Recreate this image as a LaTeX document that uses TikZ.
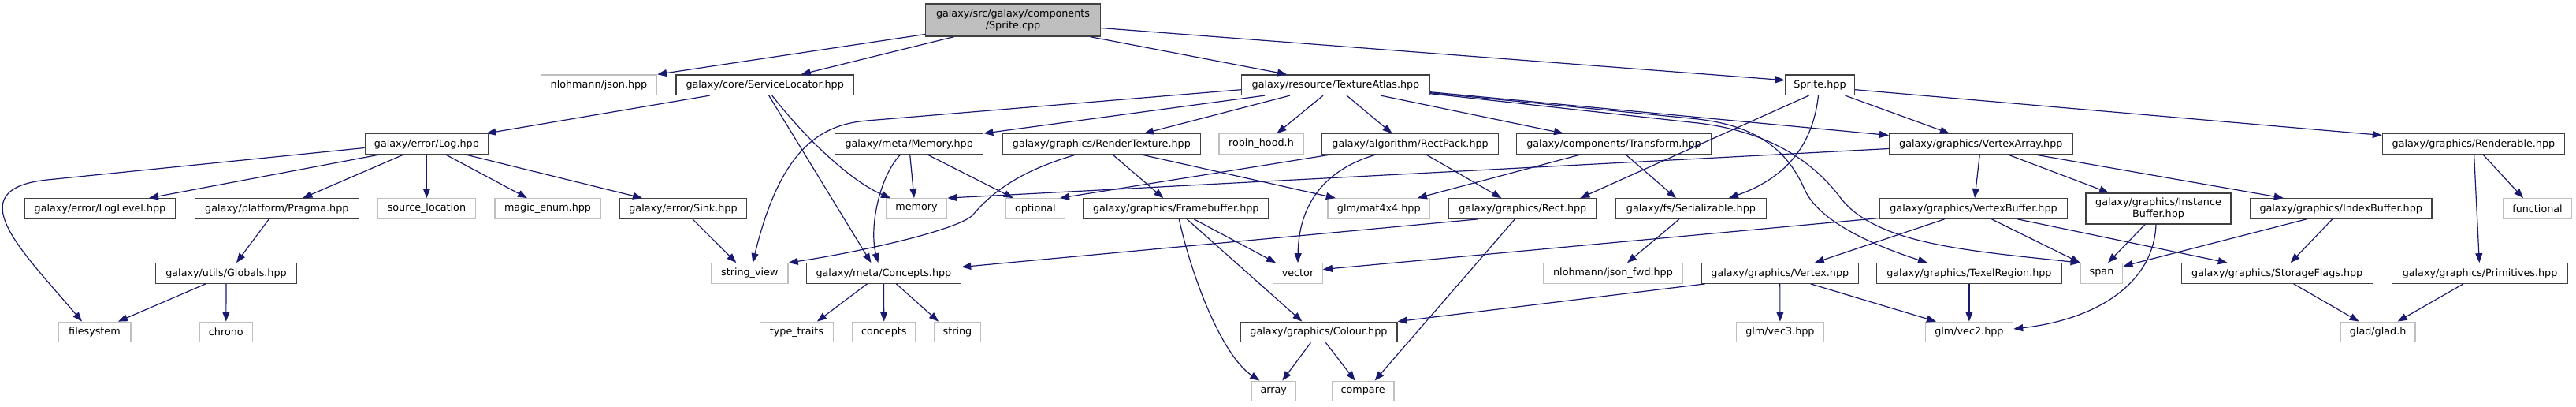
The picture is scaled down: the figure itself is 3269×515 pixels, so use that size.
\documentclass[tikz,border=0pt]{standalone}
\usepackage{fontspec}
\usepackage{tikz}
\usetikzlibrary{arrows.meta,positioning,calc}
\newfontfamily\depfont{DejaVu Sans}
\definecolor{EdgeBlue}{HTML}{191970}
\definecolor{FileLine}{HTML}{404040}
\definecolor{SysLine}{HTML}{BFBFBF}
\definecolor{RootFill}{HTML}{BFBFBF}
\tikzset{
  file/.style={draw=FileLine,fill=white,line width=1.3pt,minimum height=25.5pt,inner xsep=4pt,inner ysep=2pt,align=center,font=\depfont\fontsize{12.75}{15.5}\selectfont},
  sys/.style={file,draw=SysLine},
  root/.style={file,fill=RootFill},
  dep/.style={-{Triangle[length=12pt,width=9pt]},draw=EdgeBlue,line width=1.2pt}
}

\begin{document}
\begin{tikzpicture}[x=1pt,y=-1pt]
  \useasboundingbox (0,0) rectangle (3269,515);
  % nodes, one row after the other
  \node[root,minimum width=222pt,minimum height=41pt] (spritecpp) at (1285.5,25.5) {galaxy/src/galaxy/components\\/Sprite.cpp};

  \node[sys,minimum width=147pt] (json) at (760,107.7) {nlohmann/json.hpp};
  \node[file,minimum width=225.7pt] (svcloc) at (970.7,107.7) {galaxy/core/ServiceLocator.hpp};
  \node[file,minimum width=239pt] (atlas) at (1695,107.7) {galaxy/resource/TextureAtlas.hpp};
  \node[file,minimum width=88pt] (spritehpp) at (2309.5,107.7) {Sprite.hpp};

  \node[file,minimum width=156.4pt] (log) at (541.4,182.5) {galaxy/error/Log.hpp};
  \node[file,minimum width=188pt] (memhpp) at (1153.7,182.5) {galaxy/meta/Memory.hpp};
  \node[file,minimum width=251.4pt] (rtex) at (1397.9,182.5) {galaxy/graphics/RenderTexture.hpp};
  \node[sys,minimum width=107pt] (robin) at (1600.4,182.5) {robin\_hood.h};
  \node[file,minimum width=224.3pt] (rpack) at (1789.6,182.5) {galaxy/algorithm/RectPack.hpp};
  \node[file,minimum width=247.5pt] (transform) at (2048,182.5) {galaxy/components/Transform.hpp};
  \node[file,minimum width=232.5pt] (varray) at (2513.8,182.5) {galaxy/graphics/VertexArray.hpp};
  \node[file,minimum width=231pt] (renderable) at (3138.9,182.5) {galaxy/graphics/Renderable.hpp};

  \node[file,minimum width=190.7pt] (loglevel) at (127,264.5) {galaxy/error/LogLevel.hpp};
  \node[file,minimum width=208pt] (pragma) at (351.3,264.5) {galaxy/platform/Pragma.hpp};
  \node[sys,minimum width=124.3pt] (srcloc) at (541.4,264.5) {source\_location};
  \node[sys,minimum width=134pt] (magicenum) at (695,264.5) {magic\_enum.hpp};
  \node[file,minimum width=161.4pt] (sink) at (867,264.5) {galaxy/error/Sink.hpp};
  \node[sys,minimum width=77.5pt] (memory) at (1163,264.5) {memory};
  \node[sys,minimum width=75pt] (optional) at (1313.9,264.5) {optional};
  \node[file,minimum width=235.4pt] (fbuf) at (1492.3,264.5) {galaxy/graphics/Framebuffer.hpp};
  \node[sys,minimum width=129.6pt] (mat4) at (1749.8,264.5) {glm/mat4x4.hpp};
  \node[file,minimum width=187.5pt] (rect) at (1932.3,264.5) {galaxy/graphics/Rect.hpp};
  \node[file,minimum width=191pt] (serial) at (2145.9,264.5) {galaxy/fs/Serializable.hpp};
  \node[file,minimum width=237.5pt] (vbuf) at (2504.5,264.5) {galaxy/graphics/VertexBuffer.hpp};
  \node[file,minimum width=184pt,minimum height=39pt] (ibuf) at (2739,264.5) {galaxy/graphics/Instance\\Buffer.hpp};
  \node[file,minimum width=230.8pt] (idxbuf) at (2970.7,264.5) {galaxy/graphics/IndexBuffer.hpp};
  \node[sys,minimum width=86.7pt] (functional) at (3220,264.5) {functional};

  \node[file,minimum width=179.3pt] (globals) at (287,346.5) {galaxy/utils/Globals.hpp};
  \node[sys,minimum width=97.5pt] (strview) at (951.3,346.5) {string\_view};
  \node[file,minimum width=196.4pt] (concepthpp) at (1121.4,346.5) {galaxy/meta/Concepts.hpp};
  \node[sys,minimum width=62.5pt] (vector) at (1647,346.5) {vector};
  \node[sys,minimum width=176.8pt] (jsonfwd) at (2047,346.5) {nlohmann/json\_fwd.hpp};
  \node[file,minimum width=199pt] (vertex) at (2258.8,346.5) {galaxy/graphics/Vertex.hpp};
  \node[file,minimum width=235pt] (texel) at (2498.9,346.5) {galaxy/graphics/TexelRegion.hpp};
  \node[sys,minimum width=53.6pt] (span) at (2667,346.5) {span};
  \node[file,minimum width=243pt] (storage) at (2889.7,346.5) {galaxy/graphics/StorageFlags.hpp};
  \node[file,minimum width=223.5pt] (prims) at (3147,346.5) {galaxy/graphics/Primitives.hpp};

  \node[sys,minimum width=92pt] (filesystem) at (120,421) {filesystem};
  \node[sys,minimum width=67pt] (chrono) at (286.8,421) {chrono};
  \node[sys,minimum width=92.5pt] (typetraits) at (1010.9,421) {type\_traits};
  \node[sys,minimum width=80pt] (concepts) at (1121.8,421) {concepts};
  \node[sys,minimum width=59pt] (string) at (1215,421) {string};
  \node[file,minimum width=199pt] (colour) at (1673.4,421) {galaxy/graphics/Colour.hpp};
  \node[sys,minimum width=111.4pt] (vec3) at (2258.9,421) {glm/vec3.hpp};
  \node[sys,minimum width=111.4pt] (vec2) at (2498.9,421) {glm/vec2.hpp};
  \node[sys,minimum width=94.7pt] (glad) at (3017.6,421) {glad/glad.h};

  \node[sys,minimum width=56pt] (array) at (1616.3,496) {array};
  \node[sys,minimum width=78.5pt] (compare) at (1729.6,496) {compare};

  % includes
  \draw[dep] ([yshift=-18pt]spritecpp.west) -- (json.north east);
  \draw[dep] ([xshift=-75pt]spritecpp.south) -- ([xshift=46pt]svcloc.north);
  \draw[dep] ([xshift=98pt]spritecpp.south) -- ([xshift=-62pt]atlas.north);
  \draw[dep] ([yshift=-10pt]spritecpp.east) -- ([yshift=6pt]spritehpp.west);

  \draw[dep] ([xshift=-70pt]svcloc.south) -- ([xshift=-3pt]log.north east);
  \draw[dep] ([xshift=9pt]svcloc.south) .. controls (1030,185) and (1085,232) .. ([xshift=-33pt]memory.north);
  \draw[dep] ([xshift=5pt]svcloc.south) -- ([xshift=-16pt]concepthpp.north);

  \draw[dep] ([yshift=-5pt]log.west) -- (60,228) .. controls (-55,240) and (29,319) .. ([xshift=-16pt]filesystem.north);
  \draw[dep] ([xshift=-59pt]log.south) -- ([xshift=62pt]loglevel.north);
  \draw[dep] ([xshift=-29pt]log.south) -- ([xshift=33pt]pragma.north);
  \draw[dep] (log) -- (srcloc);
  \draw[dep] ([xshift=24pt]log.south) -- ([xshift=-26pt]magicenum.north);
  \draw[dep] ([xshift=49pt]log.south) -- ([xshift=-52pt]sink.north);
  \draw[dep] ([xshift=-10pt]pragma.south) -- ([xshift=13pt]globals.north);
  \draw[dep] ([xshift=-26pt]globals.south) -- ([xshift=30pt]filesystem.north);
  \draw[dep] (globals) -- (chrono);
  \draw[dep] ([xshift=12pt]sink.south) -- ([xshift=-17pt]strview.north);

  \draw[dep] ([yshift=-6pt]atlas.west) -- (1100,153) .. controls (1040,158) and (990,190) .. ([xshift=4pt]strview.north);
  \draw[dep] ([xshift=-90pt]atlas.south) -- (memhpp.north east);
  \draw[dep] ([xshift=-58pt]atlas.south) -- ([xshift=54pt]rtex.north);
  \draw[dep] ([xshift=-16pt]atlas.south) -- ([xshift=20pt]robin.north);
  \draw[dep] ([xshift=14pt]atlas.south) -- ([xshift=-23pt]rpack.north);
  \draw[dep] ([xshift=57pt]atlas.south) -- ([xshift=-64pt]transform.north);
  \draw[dep] ([yshift=-9pt]atlas.east) -- ([yshift=11pt]varray.west);
  \draw[dep] ([yshift=-10pt]atlas.east) -- (2150,150.5) .. controls (2235,159) and (2270,195) .. (2290,240) .. controls (2310,285) and (2390,315) .. ([xshift=-53pt]texel.north);
  \draw[dep] ([yshift=-11pt]atlas.east) -- (2150,155.5) .. controls (2250,166) and (2305,210) .. (2335,250) .. controls (2380,310) and (2500,318) .. (span.north west);

  \draw[dep] ([xshift=32pt]spritehpp.south) -- ([xshift=-40pt]varray.north);
  \draw[dep] ([yshift=-6pt]spritehpp.east) -- ([yshift=11pt]renderable.west);
  \draw[dep] ([xshift=-14pt]spritehpp.south) -- ([xshift=73pt]rect.north);
  \draw[dep] ([xshift=-2pt]spritehpp.south) .. controls (2300,190) and (2260,228) .. ([xshift=48pt]serial.north);

  \draw[dep] ([xshift=1pt]memhpp.south) -- ([xshift=-3pt]memory.north);
  \draw[dep] ([xshift=23pt]memhpp.south) -- ([xshift=-28pt]optional.north);
  \draw[dep] ([xshift=-11pt]memhpp.south) .. controls (1115,225) and (1103,290) .. ([xshift=-7pt]concepthpp.north);

  \draw[dep] ([xshift=-32pt]rtex.south) .. controls (1300,215) and (1262,240) .. (1235,272) .. controls (1220,290) and (1100,318) .. (strview.north east);
  \draw[dep] ([xshift=14pt]rtex.south) -- ([xshift=-16pt]fbuf.north);
  \draw[dep] ([xshift=50pt]rtex.south) -- ([xshift=-55pt]mat4.north);

  \draw[dep] ([xshift=-100pt]rpack.south) -- ([xshift=-7pt]optional.north east);
  \draw[dep] ([xshift=-43pt]rpack.south) .. controls (1680,215) and (1648,260) .. (vector.north);
  \draw[dep] ([xshift=20pt]rpack.south) -- ([xshift=-27pt]rect.north);

  \draw[dep] ([xshift=-42pt]transform.south) -- ([xshift=49pt]mat4.north);
  \draw[dep] ([xshift=15pt]transform.south) -- ([xshift=-19pt]serial.north);

  \draw[dep] ([yshift=-6pt]varray.west) -- (memory.north east);
  \draw[dep] (varray) -- (vbuf);
  \draw[dep] ([xshift=34pt]varray.south) -- ([xshift=-63pt]ibuf.north);
  \draw[dep] ([xshift=68pt]varray.south) -- ([xshift=-73pt]idxbuf.north);

  \draw[dep] (renderable) -- (prims);
  \draw[dep] ([xshift=12pt]renderable.south) -- ([xshift=-18pt]functional.north);

  \draw[dep] ([xshift=4pt]fbuf.south) .. controls (1512,350) and (1550,450) .. ([xshift=-18pt]array.north);
  \draw[dep] ([xshift=23pt]fbuf.south) -- ([xshift=-28pt]vector.north);
  \draw[dep] ([xshift=14pt]fbuf.south) -- ([xshift=-21pt]colour.north);
  \draw[dep] ([xshift=-57pt]rect.south) -- ([yshift=8pt]concepthpp.east);
  \draw[dep] ([xshift=-10pt]rect.south) -- ([xshift=15pt]compare.north);
  \draw[dep] ([xshift=-15pt]serial.south) -- ([xshift=18pt]jsonfwd.north);
  \draw[dep] ([yshift=-12pt]vbuf.west) -- ([yshift=5pt]vector.east);
  \draw[dep] ([xshift=-37pt]vbuf.south) -- ([xshift=44pt]vertex.north);
  \draw[dep] ([xshift=23pt]vbuf.south) -- (span.north west);
  \draw[dep] ([xshift=56pt]vbuf.south) -- ([xshift=-63pt]storage.north);
  \draw[dep] ([xshift=-17pt]ibuf.south) -- ([xshift=8pt]span.north);
  \draw[dep] ([xshift=-3pt]ibuf.south) .. controls (2733,360) and (2660,405) .. ([yshift=4pt]vec2.east);
  \draw[dep] ([xshift=-44pt]idxbuf.south) -- ([yshift=9pt]span.east);
  \draw[dep] ([xshift=-11pt]idxbuf.south) -- ([xshift=17pt]storage.north);

  \draw[dep] ([xshift=-21pt]concepthpp.south) -- ([xshift=26pt]typetraits.north);
  \draw[dep] (concepthpp) -- (concepts);
  \draw[dep] ([xshift=16pt]concepthpp.south) -- ([xshift=-24pt]string.north);
  \draw[dep] (vertex) -- (vec3);
  \draw[dep] ([xshift=39pt]vertex.south) -- ([xshift=-42pt]vec2.north);
  \draw[dep] ([xshift=5pt]vertex.south west) -- (colour.north east);
  \draw[dep] (texel) -- (vec2);
  \draw[dep] ([xshift=21pt]storage.south) -- ([xshift=-24pt]glad.north);
  \draw[dep] ([xshift=-21pt]prims.south) -- ([xshift=25pt]glad.north);

  \draw[dep] ([xshift=-10pt]colour.south) -- ([xshift=11pt]array.north);
  \draw[dep] ([xshift=9pt]colour.south) -- ([xshift=-10pt]compare.north);
\end{tikzpicture}
\end{document}
